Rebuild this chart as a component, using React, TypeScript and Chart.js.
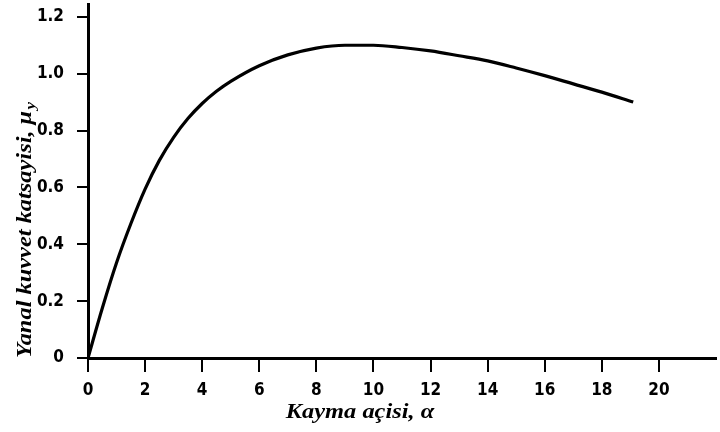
import React, { useEffect, useRef } from "react";
import { Chart, registerables } from "chart.js";

Chart.register(...registerables);

// Slip angle (degrees) and lateral force coefficient
const slipAngle = [0, 0.5, 1, 1.5, 2, 2.5, 3, 3.5, 4, 4.5, 5, 6, 7, 8, 9, 10, 11, 12, 13, 14, 15, 16, 17, 18, 19.1];
const lateralCoef = [0, 0.175, 0.335, 0.472, 0.594, 0.695, 0.776, 0.842, 0.895, 0.938, 0.973, 1.028, 1.066, 1.09, 1.1, 1.1, 1.092, 1.08, 1.063, 1.045, 1.02, 0.993, 0.964, 0.935, 0.9];

const xTicks = [0, 2, 4, 6, 8, 10, 12, 14, 16, 18, 20];
const yTicks = [0, 0.2, 0.4, 0.6, 0.8, 1.0, 1.2];

const xTitle = "Kayma açisi, α";
const yTitleMain = "Yanal kuvvet katsayisi, μ";
const yTitleSub = "y";

const tickFont = "'Liberation Sans Narrow', 'DejaVu Sans Condensed', 'Arial Narrow', sans-serif";
const titleFont = "'Liberation Serif', 'DejaVu Serif', serif";
const titleStretch = 1.22;

const axisTitles = {
  id: "axisTitles",
  afterDraw(chart: any) {
    const { ctx } = chart;
    ctx.save();
    ctx.fillStyle = "#000";
    ctx.textBaseline = "alphabetic";

    // horizontal title, widened a little
    ctx.save();
    ctx.translate(360, 418);
    ctx.scale(titleStretch, 1);
    ctx.font = `italic bold 20px ${titleFont}`;
    ctx.textAlign = "center";
    ctx.fillText(xTitle, 0, 0);
    ctx.restore();

    // vertical title with subscript
    ctx.save();
    ctx.translate(31, 230);
    ctx.rotate(-Math.PI / 2);
    ctx.scale(titleStretch, 1);
    ctx.font = `italic bold 20px ${titleFont}`;
    const wMain = ctx.measureText(yTitleMain).width;
    ctx.font = `italic bold 14px ${titleFont}`;
    const wSub = ctx.measureText(yTitleSub).width;
    const total = wMain + wSub + 1;
    ctx.textAlign = "left";
    ctx.font = `italic bold 20px ${titleFont}`;
    ctx.fillText(yTitleMain, -total / 2, 0);
    ctx.font = `italic bold 14px ${titleFont}`;
    ctx.fillText(yTitleSub, -total / 2 + wMain + 1, 4);
    ctx.restore();

    ctx.restore();
  },
};

export default function App() {
  const ref = useRef<HTMLCanvasElement | null>(null);

  useEffect(() => {
    if (!ref.current) return;
    const chart = new Chart(ref.current, {
      type: "line",
      data: {
        datasets: [
          {
            data: slipAngle.map((x, i) => ({ x, y: lateralCoef[i] })),
            borderColor: "#000",
            borderWidth: 3.2,
            pointRadius: 0,
            cubicInterpolationMode: "monotone",
            fill: false,
          },
        ],
      },
      options: {
        animation: false,
        responsive: false,
        maintainAspectRatio: false,
        layout: { padding: { left: 0, top: 4, right: 4, bottom: 0 } },
        plugins: {
          legend: { display: false },
          tooltip: { enabled: false },
        },
        scales: {
          x: {
            type: "linear",
            min: 0,
            max: 22,
            afterBuildTicks: (scale: any) => {
              scale.ticks = xTicks.map((v) => ({ value: v }));
            },
            afterFit: (scale: any) => {
              scale.height = 74;
              scale.paddingLeft = 0;
              scale.paddingRight = 0;
            },
            border: { display: true, color: "#000", width: 3 },
            grid: {
              drawOnChartArea: false,
              drawTicks: true,
              tickLength: 14,
              color: "#000",
              lineWidth: 2,
            },
            ticks: {
              color: "#000",
              padding: 8,
              maxRotation: 0,
              font: { family: tickFont, size: 17, weight: "bold" },
              callback: (v: any) => String(v),
            },
          },
          y: {
            type: "linear",
            min: 0,
            max: 1.245,
            afterBuildTicks: (scale: any) => {
              scale.ticks = yTicks.map((v) => ({ value: v }));
            },
            afterFit: (scale: any) => {
              scale.width = 88;
              scale.paddingTop = 0;
              scale.paddingBottom = 0;
            },
            border: { display: true, color: "#000", width: 3 },
            grid: {
              drawOnChartArea: false,
              drawTicks: true,
              tickLength: 11,
              color: "#000",
              lineWidth: 2,
            },
            ticks: {
              color: "#000",
              padding: 13,
              font: { family: tickFont, size: 17, weight: "bold" },
              callback: (v: any) => (v === 0 ? "0" : Number(v).toFixed(1)),
            },
          },
        },
      },
      plugins: [axisTitles],
    });
    return () => chart.destroy();
  }, []);

  return (
    <div style={{ position: "fixed", left: 0, top: 0, width: 720, height: 432, background: "#fff" }}>
      <canvas ref={ref} width={720} height={432} style={{ width: 720, height: 432 }} />
    </div>
  );
}
